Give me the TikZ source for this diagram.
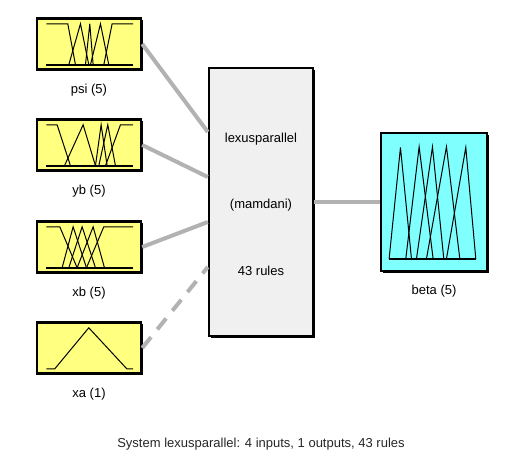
\documentclass[tikz,border=0pt]{standalone}
\usepackage{fontspec}
\setmainfont{Liberation Sans}
\usetikzlibrary{positioning,shadows}

\definecolor{inyellow}{RGB}{255,255,128}
\definecolor{outcyan}{RGB}{128,255,255}
\definecolor{sysgray}{RGB}{240,240,240}
\definecolor{wire}{RGB}{178,178,178}

\begin{document}
\begin{tikzpicture}[x=1pt,y=-1pt,font=\fontsize{13}{15}\selectfont,
  fisbox/.style={rectangle,draw,line width=2.4pt,drop shadow={shadow xshift=1.8pt,shadow yshift=-1.8pt,fill=black,opacity=1}},
  inbox/.style={fisbox,fill=inyellow,minimum width=104pt,minimum height=51pt},
  lbl/.style={inner sep=0pt},
  mf/.style={line width=1pt},
  base/.style={line width=1.7pt},
  link/.style={wire,line width=4pt}]
\useasboundingbox (0,0) rectangle (509,470);

% inputs
\node at (89,44) [inbox] (psi) {};
\node at (89,145) [inbox] (yb) {};
\node at (89,247) [inbox] (xb) {};
\node at (89,348) [inbox] (xa) {};
\node [lbl,below=13pt of psi] (psilbl) {psi (5)};
\node [lbl,below=13pt of yb] (yblbl) {yb (5)};
\node [lbl,below=13pt of xb] (xblbl) {xb (5)};
\node [lbl,below=13pt of xa] (xalbl) {xa (1)};

% system and output
\node at (261,202) [fisbox,fill=sysgray,minimum width=104pt,minimum height=268pt] (sys) {};
\node at ([yshift=63pt]sys.center) [lbl] (sysname) {lexusparallel};
\node at ([yshift=-3pt]sys.center) [lbl] (systype) {(mamdani)};
\node at ([yshift=-69pt]sys.center) [lbl] (sysrules) {43 rules};
\node at (434,202) [fisbox,fill=outcyan,minimum width=106pt,minimum height=138pt] (beta) {};
\node [lbl,below=13pt of beta] (betalbl) {beta (5)};

% connectors
\coordinate (sysin1) at ([yshift=70pt]sys.west);
\coordinate (sysin2) at ([yshift=25pt]sys.west);
\coordinate (sysin3) at ([yshift=-20pt]sys.west);
\coordinate (sysin4) at ([yshift=-65pt]sys.west);
\draw [link] (psi.east) -- (sysin1);
\draw [link] (yb.east) -- (sysin2);
\draw [link] (xb.east) -- (sysin3);
\draw [link,dash pattern=on 14pt off 10pt] (xa.east) -- (sysin4);
\draw [link] (sys.east) -- (beta.west);

% membership functions
\begin{scope}[shift={([xshift=8pt,yshift=-2.5pt]psi.north west)},x=0.3333pt,y=-0.3333pt]
\draw [base] (8,135) -- (268,135);
\draw [mf] (8,12) -- (72,12) -- (95,135);
\draw [mf] (75,135) -- (110,12) -- (135,135);
\draw [mf] (125,135) -- (138,12) -- (148,135);
\draw [mf] (140,135) -- (170,12) -- (195,135);
\draw [mf] (180,135) -- (205,12) -- (268,12);
\end{scope}
\begin{scope}[shift={([xshift=8pt,yshift=-2.5pt]yb.north west)},x=0.3333pt,y=-0.3333pt]
\draw [base] (8,135) -- (268,135);
\draw [mf] (8,12) -- (40,12) -- (80,135);
\draw [mf] (62,135) -- (118,12) -- (155,135);
\draw [mf] (155,135) -- (172,12) -- (190,135);
\draw [mf] (165,135) -- (192,12) -- (215,135);
\draw [mf] (185,135) -- (230,12) -- (268,12);
\end{scope}
\begin{scope}[shift={([xshift=8pt,yshift=-2.5pt]xb.north west)},x=0.3333pt,y=-0.3333pt]
\draw [base] (8,135) -- (268,135);
\draw [mf] (8,12) -- (48,12) -- (100,135);
\draw [mf] (55,135) -- (88,12) -- (128,135);
\draw [mf] (75,135) -- (115,12) -- (155,135);
\draw [mf] (100,135) -- (148,12) -- (182,135);
\draw [mf] (128,135) -- (180,12) -- (268,12);
\end{scope}
\begin{scope}[shift={([xshift=8pt,yshift=-2.5pt]xa.north west)},x=0.3333pt,y=-0.3333pt]
\draw [mf] (8,135) -- (33,135) -- (135,12) -- (249,135) -- (268,135);
\end{scope}
\begin{scope}[shift={([xshift=-10pt,yshift=7pt]beta.north west)},x=0.3333pt,y=-0.3333pt]
\draw [base] (58,402) -- (320,402);
\draw [mf] (58,402) -- (92,68) -- (125,402);
\draw [mf] (108,402) -- (148,66) -- (190,402);
\draw [mf] (140,402) -- (188,66) -- (222,402);
\draw [mf] (170,402) -- (230,66) -- (270,402);
\draw [mf] (230,402) -- (288,68) -- (318,402);
\end{scope}

\node at (261,444) [lbl,text=black!85] (caption) {System lexusparallel: 4 inputs, 1 outputs, 43 rules};
\end{tikzpicture}
\end{document}
